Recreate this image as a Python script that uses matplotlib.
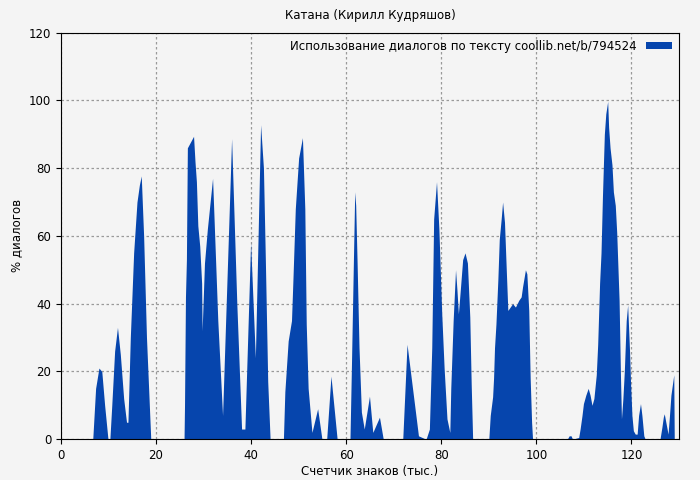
import matplotlib
matplotlib.use("Agg")
import matplotlib.pyplot as plt

xs = [0, 6.7, 7.3, 8.0, 8.6, 9.2, 9.9,
      10.3, 10.7, 11.3, 11.9, 12.5, 13.2, 13.8, 14.1, 14.6, 15.3, 16.0, 16.5, 16.9, 17.4, 18.0, 18.9,
      25.9, 26.0, 26.2, 26.4, 26.6, 27.9, 28.2, 28.5, 28.8, 29.2, 29.6, 29.7, 30.2, 30.8, 31.9,
      33.0, 34.0, 35.0, 35.9, 37.0, 38.0, 38.7, 39.9, 40.9, 42.0, 42.6, 43.0, 43.5, 44.0,
      46.8, 47.1, 47.8, 48.5, 48.8, 49.3, 50.0, 50.8, 51.3, 51.6, 52.0, 52.8, 54.0, 54.9,
      55.9, 56.8, 58.1, 60.8, 61.1, 61.5, 61.8, 62.0, 62.3, 62.7, 63.2, 63.8, 64.9, 65.6, 67.0, 67.8,
      71.9, 72.8, 75.2, 76.8, 77.5, 78.0, 78.4, 79.0, 79.5, 80.1, 80.6, 81.2, 81.8,
      82.0, 82.5, 83.0, 83.3, 83.6, 84.0, 84.5, 85.0, 85.5, 86.0, 86.3, 86.6,
      90.0, 90.3, 90.8, 91.0, 91.2, 91.5, 91.9, 92.2, 92.6, 92.9, 93.3, 93.7, 94.0, 94.5,
      95.0, 95.6, 96.3, 96.8, 97.1, 97.7, 98.0, 98.4, 98.7, 99.0, 99.2,
      106.5, 106.9, 107.3, 107.6, 108.9, 109.2, 109.6, 109.9, 110.4, 110.9, 111.3, 111.7,
      112.1, 112.6, 112.9, 113.3, 113.6, 113.9, 114.3, 114.6, 115.0, 115.2, 115.5, 115.9,
      116.2, 116.6, 116.9, 117.1, 117.4, 117.7, 117.9, 118.2, 118.5, 118.9, 119.2, 119.6,
      119.8, 120.1, 120.4, 120.8, 121.2, 121.5, 121.9, 122.2, 122.6, 122.9,
      126.0, 126.4, 126.7, 126.9, 127.3, 127.7, 128.0, 128.3, 128.9, 129.0, 130.0]
ys = [0, 0, 15, 21, 20, 10, 0,
      0, 10, 26, 33, 25, 12, 5, 5, 30, 55, 70, 75, 77.7, 60, 30, 0,
      0, 10, 42, 53, 86, 89.4, 82, 76, 63, 57, 46, 32, 52, 62, 77,
      35, 7, 50, 88.7, 40, 3, 3, 58, 24, 92.8, 80, 53, 17, 0,
      0, 14, 29, 35, 47, 68, 83, 89, 68, 34, 15, 2, 9, 0,
      0, 18.6, 0, 0, 21, 51, 73, 69, 52, 27, 8, 3, 12.7, 2, 6.5, 0,
      0, 28, 1, 0, 3, 27, 65, 76, 62, 37, 21, 6, 2,
      15, 35, 50, 44, 37, 44, 53, 55, 52, 36, 16, 0,
      0, 7, 12.5, 18, 27, 34, 47, 59, 65, 70, 64, 49, 38, 39,
      40, 39, 41, 42, 45, 50, 48.8, 38, 18, 5, 0,
      0, 1, 1, 0, 0.5, 3, 7, 10.5, 13, 15, 13, 10,
      12, 19, 28, 46, 55, 71.6, 90, 96, 99.7, 92, 86, 81,
      73, 69, 61, 53, 41, 18, 6, 12, 20, 35, 39.6, 26,
      17, 7, 2.5, 1.5, 1.5, 7, 10.5, 7, 1, 0,
      0, 3.5, 6.5, 7.5, 4.5, 1.5, 7, 13, 19, 0, 0]

title = "Катана (Кирилл Кудряшов)"
legend_label = "Использование диалогов по тексту coollib.net/b/794524"
xlabel = "Счетчик знаков (тыс.)"
ylabel = "% диалогов"
color = "#0645ad"
bg = "#f4f4f4"

plt.rcParams['font.family'] = ['DejaVu Sans']
fig, ax = plt.subplots(figsize=(7, 4.8), dpi=100)
fig.patch.set_facecolor(bg)
ax.set_facecolor(bg)
fig.subplots_adjust(left=0.087, right=0.97, top=0.932, bottom=0.085)
ax.fill_between(xs, ys, 0, color=color, linewidth=0, label=legend_label)
ax.set_xlim(0, 130)
ax.set_ylim(0, 120)
ax.set_xticks(range(0, 121, 20))
ax.set_yticks(range(0, 121, 20))
ax.tick_params(labelsize=8.5)
ax.grid(True, linestyle=(0, (2, 2)), color="#999999", linewidth=0.9)
ax.set_axisbelow(True)
ax.set_title(title, fontsize=8.5, pad=10)
ax.set_xlabel(xlabel, fontsize=8.5, labelpad=2)
ax.set_ylabel(ylabel, fontsize=8.5)
leg = ax.legend(loc="upper right", frameon=False, fontsize=8.5, handlelength=2.2,
                handleheight=0.5, borderaxespad=0.2, markerfirst=False)
fig.savefig("out.png", facecolor=bg)
